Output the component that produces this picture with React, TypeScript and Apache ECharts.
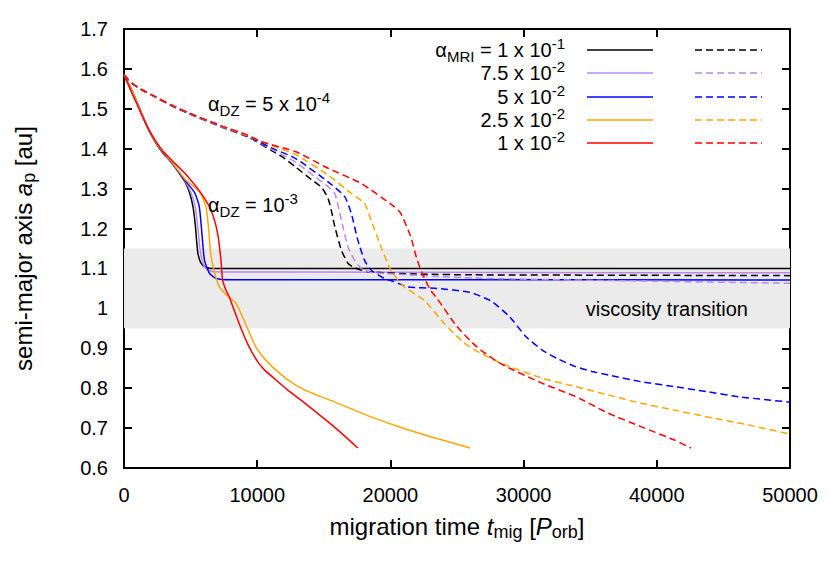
import React, { useEffect, useRef } from "react";
import * as echarts from "echarts";

const FONT = "'Liberation Sans', Arial, Helvetica, sans-serif";

const X_MIN = 0;
const X_MAX = 50000;
const X_STEP = 10000;
const Y_MIN = 0.6;
const Y_MAX = 1.7;
const Y_STEP = 0.1;
const BAND_LOW = 0.95;
const BAND_HIGH = 1.15;

const mriLabels = [
  "{g|α}{s|MRI} = 1 x 10{p|-1}",
  "7.5 x 10{p|-2}",
  "5 x 10{p|-2}",
  "2.5 x 10{p|-2}",
  "1 x 10{p|-2}",
];
const colors = ["#000000", "#bb88ee", "#0000ff", "#ffa500", "#ff0000"];

// alpha_DZ = 1e-3 (solid)
const solidBlack: number[][] = [[0,1.585],[300,1.565],[594,1.545],[1000,1.514],[1337,1.487],[1800,1.451],[2325,1.418],[2900,1.39],[3566,1.365],[4554,1.318],[4900,1.292],[5178,1.255],[5350,1.21],[5450,1.17],[5549,1.138],[5750,1.115],[6100,1.103],[6600,1.1],[12000,1.1],[25000,1.1],[38000,1.1],[50000,1.1]];
const solidPurple: number[][] = [[0,1.585],[300,1.565],[594,1.545],[1000,1.514],[1337,1.487],[1800,1.451],[2325,1.419],[2900,1.391],[3566,1.366],[4554,1.32],[5000,1.292],[5350,1.255],[5550,1.2],[5700,1.15],[5900,1.115],[6200,1.098],[6700,1.092],[12000,1.091],[30000,1.09],[50000,1.089]];
const solidBlue: number[][] = [[0,1.585],[300,1.565],[594,1.545],[1000,1.514],[1337,1.487],[1800,1.452],[2325,1.419],[2900,1.392],[3566,1.367],[4554,1.322],[5300,1.29],[5650,1.255],[5850,1.188],[6040,1.121],[6411,1.088],[6909,1.075],[8000,1.072],[20000,1.072],[50000,1.071]];
const solidOrange: number[][] = [[0,1.585],[300,1.565],[594,1.545],[1000,1.514],[1337,1.487],[1800,1.452],[2325,1.42],[2900,1.393],[3566,1.368],[4554,1.325],[5700,1.29],[6150,1.255],[6350,1.2],[6500,1.14],[6750,1.096],[7154,1.054],[7652,1.035],[8395,1.013],[8893,0.979],[9400,0.94],[9880,0.904],[10500,0.876],[11121,0.854],[12300,0.821],[13595,0.795],[16069,0.762],[18550,0.728],[21024,0.699],[23498,0.674],[25980,0.65]];
const solidRed: number[][] = [[0,1.585],[300,1.562],[594,1.539],[1000,1.51],[1337,1.484],[1800,1.452],[2325,1.422],[2900,1.395],[3566,1.372],[4806,1.33],[5795,1.288],[6537,1.246],[7030,1.188],[7280,1.121],[7407,1.071],[7652,1.046],[7897,1.029],[8640,0.962],[9383,0.904],[10126,0.862],[10600,0.844],[11121,0.829],[12300,0.795],[13595,0.762],[16069,0.695],[17555,0.65]];

// alpha_DZ = 5e-4 (dashed)
const dashBlack: number[][] = [[0,1.585],[300,1.574],[594,1.564],[1300,1.548],[2325,1.53],[3500,1.509],[4806,1.489],[7280,1.455],[9383,1.428],[10995,1.397],[11864,1.38],[12852,1.355],[14093,1.322],[14836,1.303],[15326,1.275],[15600,1.24],[15824,1.205],[16322,1.146],[16812,1.113],[17310,1.102],[18298,1.092],[22000,1.086],[26224,1.084],[38000,1.083],[50000,1.082]];
const dashPurple: number[][] = [[0,1.585],[300,1.574],[594,1.564],[1300,1.548],[2325,1.53],[3500,1.509],[4806,1.489],[7280,1.455],[9383,1.429],[11000,1.4],[12852,1.367],[14338,1.33],[15326,1.305],[15824,1.288],[16322,1.221],[16812,1.154],[17310,1.121],[17807,1.1],[18550,1.09],[26224,1.076],[38000,1.069],[50000,1.063]];
const dashBlue: number[][] = [[0,1.585],[300,1.574],[594,1.564],[1300,1.548],[2325,1.53],[3500,1.509],[4806,1.489],[7280,1.456],[9383,1.43],[11000,1.403],[12852,1.376],[15326,1.317],[16566,1.28],[17064,1.238],[17555,1.171],[18052,1.121],[18550,1.096],[19538,1.075],[20281,1.067],[21269,1.054],[23498,1.05],[25980,1.04],[27213,1.024],[27710,1.015],[28951,0.979],[30184,0.929],[31425,0.895],[32660,0.872],[33898,0.854],[35140,0.842],[36380,0.833],[38855,0.816],[41328,0.804],[43809,0.791],[46282,0.778],[50000,0.765]];
const dashOrange: number[][] = [[0,1.585],[300,1.574],[594,1.564],[1300,1.548],[2325,1.53],[3500,1.51],[4806,1.49],[7280,1.457],[9383,1.431],[11000,1.409],[12852,1.386],[15326,1.334],[17064,1.288],[18052,1.263],[18550,1.221],[19293,1.154],[20036,1.096],[21024,1.054],[22510,1.021],[23996,0.964],[25481,0.915],[26700,0.889],[27950,0.868],[28951,0.854],[31425,0.825],[33898,0.804],[36380,0.783],[38855,0.762],[41328,0.745],[43809,0.728],[46282,0.712],[50000,0.685]];
const dashRed: number[][] = [[0,1.585],[300,1.574],[594,1.564],[1300,1.549],[2325,1.531],[3500,1.511],[4806,1.491],[7280,1.458],[9383,1.433],[10252,1.418],[12852,1.393],[15326,1.351],[17807,1.313],[20281,1.255],[20779,1.238],[21522,1.18],[22012,1.121],[22510,1.079],[23008,1.046],[23498,1.025],[24986,0.955],[26470,0.904],[27950,0.868],[28951,0.85],[31425,0.812],[33898,0.779],[36380,0.737],[38855,0.703],[41328,0.67],[42568,0.65]];

const solidSets = [solidBlack, solidPurple, solidBlue, solidOrange, solidRed];
const dashSets = [dashBlack, dashPurple, dashBlue, dashOrange, dashRed];

const TICK_FS = 20;
const richFor = (fillKey: "fill" | "color", fs: number, sfs: number) => ({
  g: { fontSize: fs, fontFamily: FONT, lineHeight: 28, [fillKey]: "#000" },
  i: { fontSize: fs, fontFamily: FONT, fontStyle: "italic", lineHeight: 28, [fillKey]: "#000" },
  s: { fontSize: sfs, fontFamily: FONT, lineHeight: sfs, verticalAlign: "bottom", [fillKey]: "#000" },
  p: { fontSize: sfs, fontFamily: FONT, lineHeight: sfs, verticalAlign: "top", [fillKey]: "#000" },
});

export default function App() {
  const ref = useRef<HTMLDivElement>(null);
  useEffect(() => {
    document.body.style.margin = "0";
    if (!ref.current) return;
    const chart = echarts.init(ref.current, undefined, { renderer: "svg" });

    const axisLine = { show: true, onZero: false, lineStyle: { color: "#000", width: 2 } };
    const axisTick = { show: true, inside: true, length: 8, lineStyle: { color: "#000", width: 2 } };
    const labelStyle = { fontSize: TICK_FS, color: "#000", fontFamily: FONT };

    const series: any[] = [
      {
        type: "line",
        data: [],
        silent: true,
        z: 0,
        markArea: {
          silent: true,
          itemStyle: { color: "#ebebeb" },
          data: [[{ xAxis: X_MIN, yAxis: BAND_LOW }, { xAxis: X_MAX, yAxis: BAND_HIGH }]],
        },
      },
    ];
    solidSets.forEach((d, k) => {
      series.push({
        type: "line",
        data: d,
        showSymbol: false,
        smooth: 0.2,
        z: 3,
        lineStyle: { color: colors[k], width: 1.5 },
      });
    });
    dashSets.forEach((d, k) => {
      series.push({
        type: "line",
        data: d,
        showSymbol: false,
        smooth: 0.2,
        z: 3,
        lineStyle: { color: colors[k], width: 1.5, type: [7, 4] },
      });
    });

    const rowY = [50, 73, 97, 120, 143];
    const graphic: any[] = [];
    const txt = (x: number, y: number, text: string, align: string, rich = true) => ({
      type: "text",
      x,
      y,
      z: 100,
      style: {
        text,
        rich: rich ? richFor("fill", 20, 15) : undefined,
        fontSize: 20,
        fontFamily: FONT,
        lineHeight: 28,
        fill: "#000",
        align,
        verticalAlign: "middle",
      },
    });
    mriLabels.forEach((t, k) => {
      graphic.push(txt(565, rowY[k], t, "right"));
      graphic.push({
        type: "line",
        z: 100,
        shape: { x1: 587, y1: rowY[k], x2: 653, y2: rowY[k] },
        style: { stroke: colors[k], lineWidth: 1.5 },
      });
      graphic.push({
        type: "line",
        z: 100,
        shape: { x1: 695, y1: rowY[k], x2: 762, y2: rowY[k] },
        style: { stroke: colors[k], lineWidth: 1.5, lineDash: [7, 4] },
      });
    });
    graphic.push(txt(208, 104, "{g|α}{s|DZ} = 5 x 10{p|-4}", "left"));
    graphic.push(txt(208, 205, "{g|α}{s|DZ} = 10{p|-3}", "left"));
    graphic.push(txt(748, 309, "viscosity transition", "right", false));

    chart.setOption({
      animation: false,
      textStyle: { fontFamily: FONT },
      grid: { left: 117, right: 40, top: 29, bottom: 99, containLabel: false },
      xAxis: [
        {
          type: "value",
          min: X_MIN,
          max: X_MAX,
          interval: X_STEP,
          position: "bottom",
          axisLine,
          axisTick,
          axisLabel: { ...labelStyle, margin: 17, formatter: (v: number) => String(v) },
          splitLine: { show: false },
          name: "migration time {i|t}{s|mig} [{i|P}{s|orb}]",
          nameLocation: "middle",
          nameGap: 43,
          nameTextStyle: { ...labelStyle, fontSize: 24, lineHeight: 30, rich: richFor("color", 24, 18) },
        },
        {
          type: "value",
          min: X_MIN,
          max: X_MAX,
          interval: X_STEP,
          position: "top",
          axisLine,
          axisTick,
          axisLabel: { show: false },
          splitLine: { show: false },
        },
      ],
      yAxis: [
        {
          type: "value",
          min: Y_MIN,
          max: Y_MAX,
          interval: Y_STEP,
          position: "left",
          axisLine,
          axisTick,
          axisLabel: { ...labelStyle, margin: 16 },
          splitLine: { show: false },
          name: "semi-major axis {i|a}{s|p} [au]",
          nameLocation: "middle",
          nameGap: 86,
          nameTextStyle: { ...labelStyle, fontSize: 24, lineHeight: 30, rich: richFor("color", 24, 18) },
        },
        {
          type: "value",
          min: Y_MIN,
          max: Y_MAX,
          interval: Y_STEP,
          position: "right",
          axisLine,
          axisTick,
          axisLabel: { show: false },
          splitLine: { show: false },
        },
      ],
      graphic,
      series,
    });
    return () => chart.dispose();
  }, []);
  return <div ref={ref} style={{ width: 830, height: 567 }} />;
}
